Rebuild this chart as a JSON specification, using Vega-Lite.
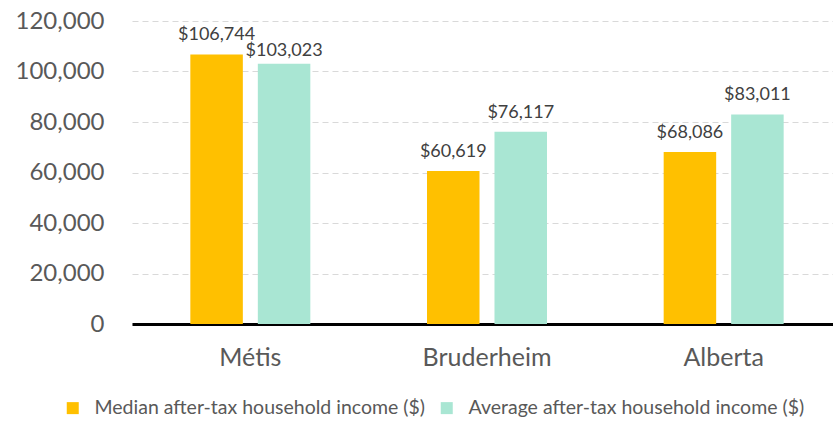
{
  "$schema": "https://vega.github.io/schema/vega-lite/v6.json",
  "autosize": "none",
  "width": 710,
  "height": 303,
  "padding": {"left": 132, "top": 21, "right": 0, "bottom": 97},
  "background": "white",
  "config": {"view": {"stroke": null}},
  "data": {
    "values": [
      {"region": "Métis", "measure": "Median after-tax household income ($)", "value": 106744},
      {"region": "Métis", "measure": "Average after-tax household income ($)", "value": 103023},
      {"region": "Bruderheim", "measure": "Median after-tax household income ($)", "value": 60619},
      {"region": "Bruderheim", "measure": "Average after-tax household income ($)", "value": 76117},
      {"region": "Alberta", "measure": "Median after-tax household income ($)", "value": 68086},
      {"region": "Alberta", "measure": "Average after-tax household income ($)", "value": 83011}
    ]
  },
  "encoding": {
    "x": {
      "field": "region", "type": "nominal", "sort": ["Métis", "Bruderheim", "Alberta"],
      "scale": {"paddingInner": 0.493, "paddingOuter": 0.2465},
      "axis": {"title": null, "ticks": false, "domainColor": "#000000", "domainWidth": 3, "labelFont": "Lato", "labelFontSize": 25, "labelColor": "#595959", "labelPadding": 21, "labelAngle": 0}
    },
    "xOffset": {
      "field": "measure", "type": "nominal",
      "sort": ["Median after-tax household income ($)", "Average after-tax household income ($)"],
      "scale": {"paddingInner": 0.222, "paddingOuter": 0}
    },
    "y": {
      "field": "value", "type": "quantitative",
      "scale": {"domain": [0, 120000], "nice": false},
      "axis": {"title": null, "values": [0, 20000, 40000, 60000, 80000, 100000, 120000], "format": ",.0f", "domain": false, "ticks": false, "labelFont": "Lato", "labelFontSize": 24, "labelColor": "#595959", "labelPadding": 28, "gridColor": "#D9D9D9", "gridDash": [6, 4], "gridWidth": 1}
    }
  },
  "layer": [
    {
      "mark": {"type": "bar"},
      "encoding": {
        "color": {
          "field": "measure", "type": "nominal",
          "scale": {"domain": ["Median after-tax household income ($)", "Average after-tax household income ($)"], "range": ["#FFC000", "#A9E6D3"]},
          "legend": {"title": null, "orient": "none", "legendX": -69, "legendY": 377, "direction": "horizontal", "columns": 2, "symbolType": "square", "symbolSize": 144, "symbolStrokeWidth": 0, "labelFont": "Lato", "labelFontSize": 19.5, "labelColor": "#595959", "labelOffset": 12, "columnPadding": 11, "labelLimit": 500, "padding": 0}
        }
      }
    },
    {
      "transform": [{"filter": "!(datum.region == 'Métis' && datum.measure == 'Average after-tax household income ($)')"}],
      "mark": {"type": "text", "baseline": "alphabetic", "dy": -14, "font": "Lato", "fontSize": 18, "color": "#404040"},
      "encoding": {"text": {"field": "value", "type": "quantitative", "format": "$,.0f"}}
    },
    {
      "transform": [{"filter": "datum.region == 'Métis' && datum.measure == 'Average after-tax household income ($)'"}],
      "mark": {"type": "text", "baseline": "alphabetic", "dy": -8, "font": "Lato", "fontSize": 18, "color": "#404040"},
      "encoding": {"text": {"field": "value", "type": "quantitative", "format": "$,.0f"}}
    }
  ]
}
